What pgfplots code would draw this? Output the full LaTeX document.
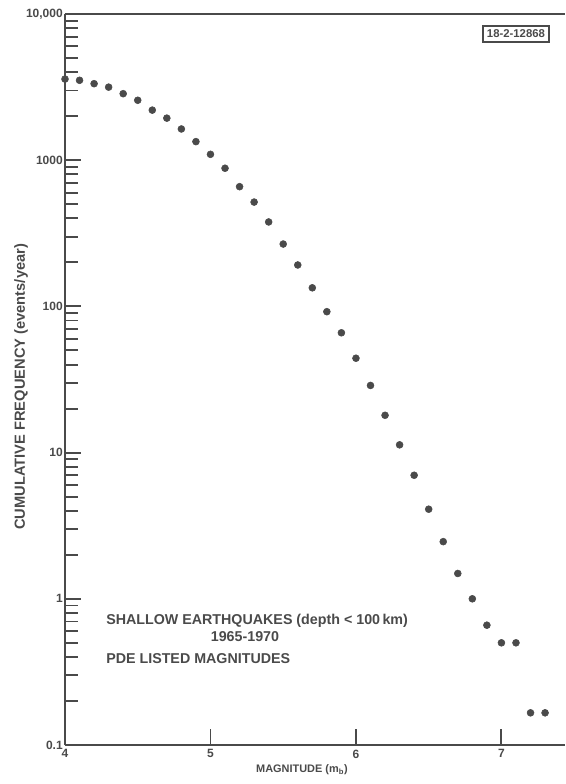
\documentclass[border=0pt]{standalone}
\usepackage{fontspec}
\setmainfont{Liberation Sans}
\usepackage{pgfplots}
\pgfplotsset{compat=1.18}
\definecolor{ink}{HTML}{4A4A4A}
\begin{document}
\begin{tikzpicture}
\begin{axis}[
  scale only axis, width=375pt, height=548.25pt,
  at={(0,0)}, anchor=south west,
  xmin=4, xmax=7.437, ymode=log, ymin=0.1, ymax=10000,
  axis x line*=box, axis y line*=left,
  axis line style={ink, line width=1.6pt},
  xtick={4,5,6,7}, xticklabels={4,5,6,7},
  ytick={0.1,1,10,100,1000,10000}, yticklabels={0.1,1,10,100,1000,{10,000}},
  /pgf/number format/assume math mode=true,
  tick align=inside, xtick pos=bottom, ytick pos=left,
  major tick length=12pt, minor tick length=9.5pt,
  every tick/.style={ink, line width=1.4pt},
  every minor tick/.style={ink, line width=1.4pt},
  ticklabel style={font=\bfseries\fontsize{9}{10}\selectfont, text=ink},
  yticklabel style={inner sep=1.5pt},
  xlabel={MAGNITUDE (m\textsubscript{b})},
  ylabel={CUMULATIVE FREQUENCY (events/year)},
  xlabel style={font=\bfseries\fontsize{8.2}{10}\selectfont, text=ink, at={(axis description cs:0.474,0)}, anchor=north, inner sep=0pt, yshift=-14.5pt},
  ylabel style={font=\bfseries\fontsize{11}{12}\selectfont, text=ink, at={(axis description cs:0,0.49)}, anchor=center, inner sep=0pt, yshift=33pt},
  clip=false,
]
\addplot[only marks, mark=*, mark size=2.6pt, color=ink] coordinates {
(4.0,3590) (4.1,3520) (4.2,3336) (4.3,3160) (4.4,2850) (4.5,2570)
(4.6,2200) (4.7,1940) (4.8,1635) (4.9,1340) (5.0,1097) (5.1,881)
(5.2,659) (5.3,517) (5.4,378) (5.5,267) (5.6,192) (5.7,134)
(5.8,92) (5.9,66) (6.0,44.2) (6.1,28.8) (6.2,18.0) (6.3,11.3)
(6.4,7.0) (6.5,4.1) (6.6,2.46) (6.7,1.49) (6.8,1.0) (6.9,0.66)
(7.0,0.50) (7.1,0.50) (7.2,0.166) (7.3,0.166)
};
\node[anchor=base west, font=\bfseries\fontsize{10.7}{12}\selectfont, text=ink, inner sep=0pt] at (axis cs:4.282,0.662) {SHALLOW EARTHQUAKES (depth < 100\,km)};
\node[anchor=base, font=\bfseries\fontsize{10.7}{12}\selectfont, text=ink, inner sep=0pt] at (axis cs:5.237,0.514) {1965-1970};
\node[anchor=base west, font=\bfseries\fontsize{10.7}{12}\selectfont, text=ink, inner sep=0pt] at (axis cs:4.282,0.362) {PDE LISTED MAGNITUDES};
\node[draw=ink, line width=1pt, text=ink, font=\bfseries\fontsize{8.5}{9}\selectfont, inner sep=3pt] at (axis cs:7.1,7300) {18-2-12868};
\end{axis}
\pgfresetboundingbox
\path[use as bounding box] (-48.75pt,-29.25pt) rectangle (375pt,558.75pt);
\end{tikzpicture}
\end{document}
